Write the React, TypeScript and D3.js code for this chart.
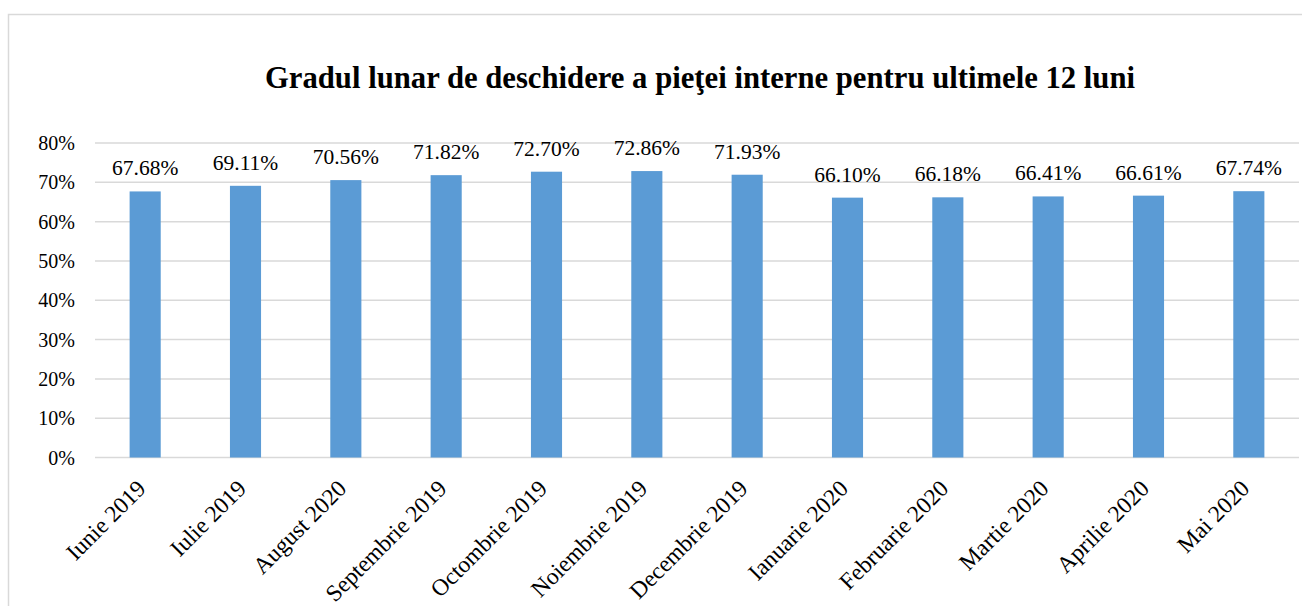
import React from "react";
import * as d3 from "d3";

const categories: string[] = [
  "Iunie 2019", "Iulie 2019", "August 2020", "Septembrie 2019", "Octombrie 2019", "Noiembrie 2019",
  "Decembrie 2019", "Ianuarie 2020", "Februarie 2020", "Martie 2020", "Aprilie 2020", "Mai 2020",
];
const values: number[] = [67.68, 69.11, 70.56, 71.82, 72.70, 72.86, 71.93, 66.10, 66.18, 66.41, 66.61, 67.74];
const yTicks: number[] = [0, 10, 20, 30, 40, 50, 60, 70, 80];
const title = "Gradul lunar de deschidere a pieţei interne pentru ultimele 12 luni";

const W = 1302;
const H = 606;
const FONT = "'Times New Roman', 'Liberation Serif', serif";

export default function App() {
  const x = d3.scaleBand<string>().domain(categories).range([95, 1299]).paddingInner(0.69).paddingOuter(0.345);
  const y = d3.scaleLinear().domain([0, 80]).range([457.5, 143]);
  const fmt = (v: number) => v.toFixed(2) + "%";
  return (
    <svg width={W} height={H} style={{ position: "absolute", left: 0, top: 0, background: "#fff" }}>
      <path d="M8.5,606 L8.5,14.5 L1302,14.5" fill="none" stroke="#d9d9d9" strokeWidth={1.5} />
      <text x={700} y={88} textAnchor="middle" fontFamily={FONT} fontWeight="bold" fontSize={30.7} fill="#000">
        {title}
      </text>
      {yTicks.map((t) => (
        <g key={t}>
          <line x1={95} x2={1299} y1={y(t)} y2={y(t)} stroke="#d9d9d9" strokeWidth={1.5} />
          <text x={75} y={y(t)} dy="0.35em" textAnchor="end" fontFamily={FONT} fontSize={20} fill="#000">
            {t}%
          </text>
        </g>
      ))}
      {categories.map((c, i) => (
        <g key={c}>
          <rect x={x(c)} y={y(values[i])} width={x.bandwidth()} height={y(0) - y(values[i])} fill="#5b9bd5" />
          <text x={(x(c) as number) + x.bandwidth() / 2} y={y(values[i]) - 16} textAnchor="middle" fontFamily={FONT} fontSize={21.5} fill="#000">
            {fmt(values[i])}
          </text>
          <text
            transform={`translate(${(x(c) as number) + x.bandwidth() / 2 + 2},${490}) rotate(-45)`}
            textAnchor="end"
            fontFamily={FONT}
            fontSize={23.5}
            fill="#000"
          >
            {c}
          </text>
        </g>
      ))}
    </svg>
  );
}
